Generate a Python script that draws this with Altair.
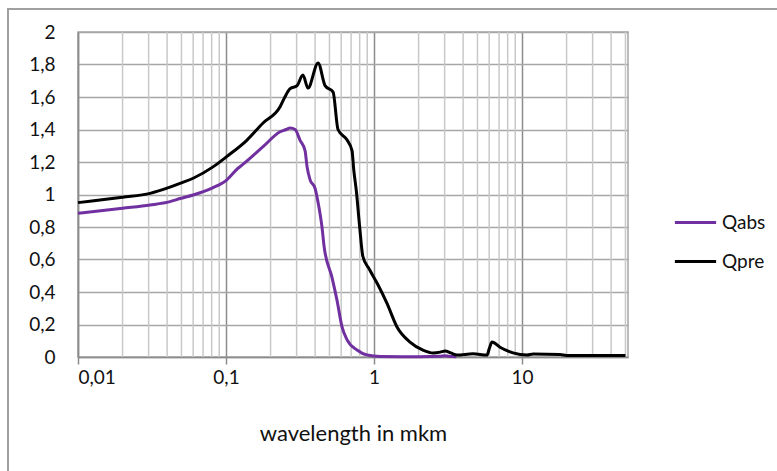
import altair as alt
import pandas as pd

# Qpre (black)
qpre_x = [0.01, 0.02, 0.0307, 0.0418, 0.0489, 0.06, 0.0817, 0.101, 0.1387, 0.178, 0.232,
          0.25, 0.27, 0.302, 0.331, 0.358, 0.419, 0.467, 0.529, 0.571, 0.658, 0.71, 0.73,
          0.76, 0.80, 0.84, 0.93, 1.048, 1.224, 1.43, 1.75, 2.14, 2.51, 2.8, 3.02, 3.3,
          3.64, 4.67, 5.8, 6.0, 6.27, 7.1, 8.69, 10.8, 11.9, 18.1, 20, 50]
qpre_y = [0.95, 0.983, 1.007, 1.045, 1.068, 1.10, 1.17, 1.233, 1.335, 1.44, 1.54,
          1.60, 1.65, 1.67, 1.735, 1.655, 1.81, 1.67, 1.63, 1.40, 1.335, 1.27, 1.15,
          1.02, 0.80, 0.62, 0.54, 0.455, 0.33, 0.185, 0.092, 0.043, 0.025, 0.03, 0.037, 0.025,
          0.012, 0.02, 0.012, 0.05, 0.092, 0.06, 0.025, 0.012, 0.018, 0.015, 0.01, 0.01]

# Qabs (purple)
qabs_x = [0.01, 0.02, 0.0307, 0.0418, 0.0489, 0.06, 0.0817, 0.101, 0.12, 0.13, 0.178,
          0.232, 0.255, 0.271, 0.293, 0.316, 0.342, 0.353, 0.370, 0.399, 0.419, 0.445,
          0.46, 0.52, 0.562, 0.608, 0.658, 0.768, 0.897, 1.1, 2.0, 2.8, 3.0, 3.2, 3.6]
qabs_y = [0.884, 0.915, 0.935, 0.956, 0.975, 0.997, 1.042, 1.089, 1.16, 1.185, 1.294,
          1.386, 1.40, 1.41, 1.40, 1.335, 1.27, 1.17, 1.09, 1.04, 0.95, 0.80,
          0.68, 0.49, 0.35, 0.185, 0.105, 0.043, 0.012, 0.003, 0.002, 0.004, 0.008, 0.004, 0.001]

minor_grid = [0.02, 0.03, 0.04, 0.05, 0.06, 0.07, 0.08, 0.09,
              0.2, 0.3, 0.4, 0.5, 0.6, 0.7, 0.8, 0.9,
              2, 3, 4, 5, 6, 7, 8, 9, 20, 30, 40, 50]
x_ticks = [0.01, 0.1, 1, 10]
y_ticks = [0, 0.2, 0.4, 0.6, 0.8, 1, 1.2, 1.4, 1.6, 1.8, 2]

series = ["Qabs", "Qpre"]
colors = ["#7030A0", "#000000"]

df = pd.concat([
    pd.DataFrame({"x": qabs_x, "y": qabs_y, "s": "Qabs", "o": range(len(qabs_x))}),
    pd.DataFrame({"x": qpre_x, "y": qpre_y, "s": "Qpre", "o": range(len(qpre_x))}),
])
grid_df = pd.DataFrame({"x": minor_grid})

FONT = "Lato"
xscale = alt.Scale(type="log", domain=[0.01, 52], nice=False)
xaxis = alt.Axis(values=x_ticks, labelExpr="replace(toString(datum.value), '.', ',')",
                 grid=True, gridColor="#8c8c8c", gridWidth=1.5,
                 tickSize=7, tickColor="#8c8c8c", tickWidth=1.5,
                 domainColor="#8c8c8c", domainWidth=1.5,
                 labelFont=FONT, labelFontSize=19, labelColor="#111111", labelPadding=4,
                 title="wavelength in mkm", titleFont=FONT, titleFontSize=22,
                 titleFontWeight="normal", titleColor="#111111", titlePadding=36)

rules = alt.Chart(grid_df).mark_rule(color="#c8c8c8", strokeWidth=1.5).encode(
    x=alt.X("x:Q", scale=xscale, axis=xaxis)
)

lines = alt.Chart(df).mark_line(strokeWidth=3, interpolate="monotone").encode(
    x=alt.X("x:Q", scale=xscale, axis=xaxis),
    y=alt.Y("y:Q", scale=alt.Scale(domain=[0, 2], nice=False),
            axis=alt.Axis(values=y_ticks, labelExpr="replace(toString(datum.value), '.', ',')",
                          grid=True, gridColor="#a6a6a6", gridWidth=1.5,
                          tickSize=0, domainColor="#8c8c8c", domainWidth=1.5,
                          labelFont=FONT, labelFontSize=19, labelColor="#111111",
                          labelPadding=23, title=None)),
    color=alt.Color("s:N", scale=alt.Scale(domain=series, range=colors),
                    legend=alt.Legend(title=None, orient="none", legendX=595, legendY=168,
                                      symbolType="stroke", symbolSize=1700,
                                      symbolStrokeWidth=3, labelFont=FONT,
                                      labelFontSize=19, labelColor="#111111",
                                      labelOffset=4, rowPadding=6, padding=0)),
    order="o:Q",
)

frame = alt.Chart(alt.Data(values=[{}])).mark_rect(
    fill=None, stroke="#a0a0a0", strokeWidth=2
).encode(
    x=alt.value(-70), x2=alt.value(720), y=alt.value(-23), y2=alt.value(470)
)

chart = alt.layer(frame, rules, lines).properties(
    width=550, height=325,
    autosize=alt.AutoSizeParams(type="none"),
    padding={"left": 78, "top": 32, "right": 149, "bottom": 114},
    background="white",
).configure_view(stroke="#a6a6a6", strokeWidth=1.5)

chart.save("out.html", embed_options={"renderer": "svg", "actions": False})
